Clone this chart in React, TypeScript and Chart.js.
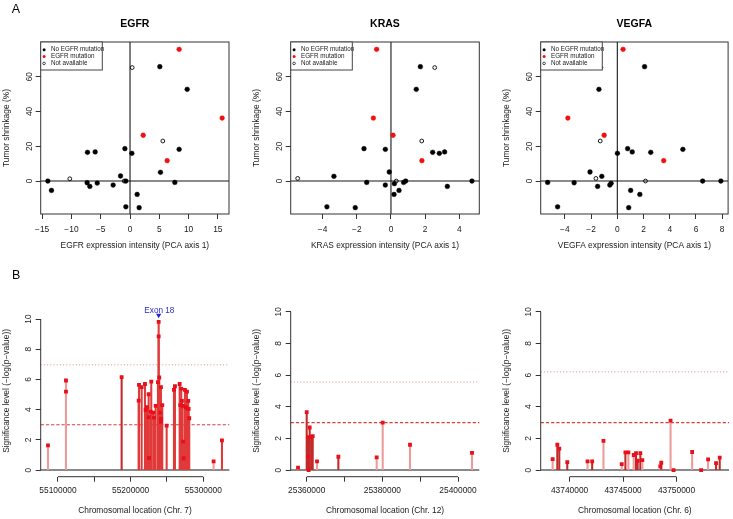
import React, { useEffect, useRef } from 'react';
import { Chart, registerables } from 'chart.js';

Chart.register(...registerables);

const FONT = "'Liberation Sans', Arial, Helvetica, sans-serif";
const TXT = '#1a1a1a';

// ---------------- Panel A : expression vs tumour shrinkage ----------------
const legendLabels = ['No EGFR mutation', 'EGFR mutation', 'Not available'];
const shrinkTicks = [0, 20, 40, 60];

const egfrNoMutX = [-14.03, -13.41, -7.26, -5.95, -7.32, -6.86, -5.6, -2.88, -1.62, -0.88, -0.71, -0.71, 0.31, 1.22, 1.56, 5.09, 5.2, 7.65, 8.39, 9.76];
const egfrNoMutY = [0, -5.4, 16.5, 16.7, -1, -3.1, -1.2, -2.3, 2.9, 18.6, 0, -14.8, 15.9, -7.7, -15.3, 65.7, 5.0, -0.8, 18.2, 52.7];
const egfrMutX = [8.39, 2.25, 6.34, 15.73];
const egfrMutY = [75.7, 26.3, 11.7, 36.2];
const egfrNaX = [0.37, 5.6, -10.28, -1.0];
const egfrNaY = [65.2, 23.0, 1.3, 0];
const egfrExprTicks = [-15, -10, -5, 0, 5, 10, 15];

const krasNoMutX = [-3.75, -3.34, -2.09, -1.58, -1.42, -0.33, -0.33, -0.1, 0.2, 0.18, 0.47, 0.74, 0.86, 1.48, 1.72, 2.44, 2.83, 3.14, 3.3, 4.74];
const krasNoMutY = [-14.8, 2.7, -15.3, 18.6, -0.8, 18.2, -2.3, 5.2, -1.5, -7.7, -5.4, -0.8, 0, 52.7, 65.7, 16.5, 15.9, 16.7, -3.1, 0];
const krasMutX = [-0.84, -1.03, 0.12, 1.81];
const krasMutY = [75.7, 36.2, 26.3, 11.7];
const krasNaX = [-5.46, 0.31, 1.8, 2.56];
const krasNaY = [1.5, 0, 23.0, 65.2];
const krasExprTicks = [-4, -2, 0, 2, 4];

const vegfaNoMutX = [-5.31, -4.55, -3.29, -2.08, -1.5, -1.4, -1.18, -0.57, -0.47, 0.01, 0.79, 0.87, 1.02, 1.14, 1.72, 2.08, 2.55, 5.0, 6.51, 7.9];
const vegfaNoMutY = [-0.8, -14.8, -1, 5.2, -3.1, 52.7, 2.7, -2.3, -1.3, 15.9, 18.6, -15.3, -5.4, 16.7, -7.7, 65.7, 16.5, 18.2, 0, 0];
const vegfaMutX = [0.44, -3.77, -1.0, 3.54];
const vegfaMutY = [75.7, 36.2, 26.3, 11.7];
const vegfaNaX = [-1.25, -1.3, -1.63, 2.15];
const vegfaNaY = [65.2, 23.0, 1.5, 0];
const vegfaExprTicks = [-4, -2, 0, 2, 4, 6, 8];

// ---------------- Panel B : significance along the chromosome ----------------
const sigTicks = [0, 2, 4, 6, 8, 10];

const egfrLoc = [55086240, 55111000, 55111000, 55187600, 55211040, 55211460, 55215170, 55219710, 55220680, 55222460, 55224800, 55224800, 55225220, 55227560, 55228380, 55231130, 55232100, 55234440, 55237600, 55238570, 55238570, 55239390, 55240770, 55241730, 55241730, 55241730, 55243520, 55249570, 55259620, 55261000, 55267460, 55268300, 55269660, 55270620, 55271600, 55272400, 55272950, 55274750, 55275710, 55277500, 55278470, 55279290, 55279840, 55280670, 55314200, 55325700];
const egfrSig = [1.64, 5.93, 5.2, 6.15, 4.6, 5.64, 5.49, 5.7, 3.98, 4.16, 5.02, 3.5, 0.8, 3.87, 5.86, 3.8, 3.47, 4.25, 5.82, 9.82, 8.85, 6.13, 3.8, 5.49, 3.4, 3.2, 4.3, 2.94, 5.31, 5.55, 5.7, 4.3, 5.4, 4.58, 4.25, 1.88, 0.78, 5.31, 4.16, 5.2, 4.07, 4.58, 4.05, 3.43, 0.58, 1.97];
const egfrTone = 'llldmmmmmmmmmmmmmmmmmmmmmmmmmmmmmmmmmmmmmmmmlm'.split('');
const egfrLocTicks = [55100000, 55150000, 55200000, 55250000, 55300000];
const egfrLocLabels = [55100000, 55200000, 55300000];
const egfrThresholds = [6.97, 3.0];
const exonLoc = 55238570;
const exonSig = 10.25;
const exonLabel = 'Exon 18';

const krasLoc = [25357710, 25360000, 25360350, 25360350, 25360500, 25360790, 25361200, 25361590, 25362730, 25368370, 25378500, 25380090, 25387310, 25403700];
const krasSig = [0.15, 3.66, 2.08, 0.84, 0, 2.69, 2.1, 2.15, 0.55, 0.84, 0.8, 3.0, 1.6, 1.09];
const krasTone = 'ldddddddldllll'.split('');
const krasLocTicks = [25360000, 25370000, 25380000, 25390000, 25400000];
const krasLocLabels = [25360000, 25380000, 25400000];
const krasThresholds = [5.56, 3.0];

const vegfaLoc = [43738416, 43738851, 43739037, 43739783, 43741677, 43742112, 43743168, 43744876, 43745218, 43745498, 43745995, 43746212, 43746367, 43746616, 43746802, 43748480, 43748573, 43749442, 43749722, 43751461, 43752300, 43752952, 43753697, 43754039];
const vegfaSig = [0.69, 1.6, 1.35, 0.5, 0.55, 0.55, 1.85, 0.38, 1.12, 1.12, 0.95, 1.07, 0.59, 1.07, 0.63, 0.23, 0.46, 3.12, 0, 1.14, 0, 0.67, 0.44, 0.78];
const vegfaTone = 'ldddldlldlldddlldldldldd'.split('');
const vegfaLocTicks = [43740000, 43745000, 43750000];
const vegfaLocLabels = [43740000, 43745000, 43750000];
const vegfaThresholds = [6.21, 3.0];

// ---------------- styling ----------------
const TONE: Record<string, string> = { d: '#c22a2a', m: '#e03a3a', l: '#ec9a9a' };
const fmt = (v: number) => (v < 0 ? '\u2212' + Math.abs(v) : String(v));
const pts = (xs: number[], ys: number[]) => xs.map((x, i) => ({ x, y: ys[i] }));

type ScatterSpec = {
  title: string; xTitle: string;
  noMutX: number[]; noMutY: number[]; mutX: number[]; mutY: number[]; naX: number[]; naY: number[];
  xMin: number; xMax: number; xTicks: number[];
  left: number; width: number; padRight: number; letter?: string;
};

type StemSpec = {
  xTitle: string; loc: number[]; sig: number[]; tone: string[];
  xMin: number; xMax: number; xTicks: number[]; xLabels: number[];
  yMin: number; yMax: number; thresholds: number[];
  left: number; width: number; padRight: number; letter?: string; exon?: boolean;
};

const tickFont = { family: FONT, size: 8.4 };

function scatterConfig(s: ScatterSpec): any {
  const decor = {
    id: 'decorA',
    beforeDatasetsDraw(chart: any) {
      const { ctx, chartArea: a, scales } = chart;
      const y0 = scales.y.getPixelForValue(0);
      const x0 = scales.x.getPixelForValue(0);
      ctx.save();
      ctx.strokeStyle = '#8a8a8a'; ctx.lineWidth = 2;
      ctx.beginPath(); ctx.moveTo(a.left, y0); ctx.lineTo(a.right, y0); ctx.stroke();
      ctx.strokeStyle = '#000'; ctx.lineWidth = 1;
      ctx.beginPath(); ctx.moveTo(x0, a.top); ctx.lineTo(x0, a.bottom); ctx.stroke();
      ctx.restore();
    },
    afterDraw(chart: any) {
      const { ctx, chartArea: a } = chart;
      ctx.save();
      ctx.strokeStyle = '#333'; ctx.lineWidth = 1;
      ctx.strokeRect(a.left, a.top, a.right - a.left, a.bottom - a.top);
      // legend
      const lx = a.left, ly = a.top;
      ctx.fillStyle = '#fff';
      ctx.fillRect(lx, ly, 61.6, 28);
      ctx.strokeStyle = '#444';
      ctx.strokeRect(lx, ly, 61.6, 28);
      const rows = [7.7, 14.6, 21.4];
      ctx.font = `6.3px ${FONT}`; ctx.textBaseline = 'middle'; ctx.textAlign = 'left';
      rows.forEach((dy, i) => {
        ctx.beginPath();
        ctx.arc(lx + 3.4, ly + dy, i === 2 ? 1.3 : 1.5, 0, Math.PI * 2);
        if (i === 2) { ctx.strokeStyle = '#000'; ctx.lineWidth = 0.7; ctx.stroke(); }
        else { ctx.fillStyle = i === 0 ? '#000' : '#f01010'; ctx.fill(); }
        ctx.fillStyle = TXT;
        ctx.fillText(legendLabels[i], lx + 10.3, ly + dy);
      });
      // title
      ctx.font = `bold 10.5px ${FONT}`; ctx.textAlign = 'center'; ctx.textBaseline = 'alphabetic';
      ctx.fillStyle = '#000';
      ctx.fillText(s.title, (a.left + a.right) / 2, 27.3);
      if (s.letter) {
        ctx.font = `12.5px ${FONT}`; ctx.textAlign = 'left';
        ctx.fillText(s.letter, 11.7, 12.7);
      }
      ctx.restore();
    },
  };
  return {
    type: 'scatter',
    data: {
      datasets: [
        { data: pts(s.noMutX, s.noMutY), pointRadius: 2.4, backgroundColor: '#000', borderColor: '#000', borderWidth: 0.4 },
        { data: pts(s.mutX, s.mutY), pointRadius: 2.4, backgroundColor: '#f01010', borderColor: '#f01010', borderWidth: 0.4 },
        { data: pts(s.naX, s.naY), pointRadius: 1.9, backgroundColor: 'rgba(255,255,255,0)', borderColor: '#000', borderWidth: 0.9 },
      ],
    },
    options: {
      responsive: false, animation: false, events: [],
      layout: { padding: { top: 42, right: s.padRight, bottom: 0, left: 0 } },
      plugins: { legend: { display: false }, tooltip: { enabled: false }, title: { display: false } },
      scales: {
        x: {
          type: 'linear', min: s.xMin, max: s.xMax, offset: false,
          afterFit: (sc: any) => { sc.height = 46; },
          afterBuildTicks: (sc: any) => { sc.ticks = s.xTicks.map((v) => ({ value: v })); },
          grid: { drawOnChartArea: false, drawTicks: true, tickLength: 5, color: '#333' },
          border: { display: false },
          ticks: { font: tickFont, color: TXT, padding: 6, autoSkip: false, minRotation: 0, maxRotation: 0, callback: (v: any) => fmt(Number(v)) },
          title: { display: true, text: s.xTitle, font: tickFont, color: TXT, padding: { top: 0, bottom: 9 } },
        },
        y: {
          type: 'linear', min: -18.95, max: 79.9,
          afterFit: (sc: any) => { sc.width = 40.7; },
          afterBuildTicks: (sc: any) => { sc.ticks = shrinkTicks.map((v) => ({ value: v })); },
          grid: { drawOnChartArea: false, drawTicks: true, tickLength: 5, color: '#333' },
          border: { display: false },
          ticks: { font: tickFont, color: TXT, padding: 1.8, minRotation: 90, maxRotation: 90, crossAlign: 'center', callback: (v: any) => fmt(Number(v)) },
          title: { display: true, text: 'Tumor shrinkage (%)', font: tickFont, color: TXT, padding: { top: 2, bottom: 0 } },
        },
      },
    },
    plugins: [decor],
  };
}

function stemConfig(s: StemSpec): any {
  const decor = {
    id: 'decorB',
    beforeDatasetsDraw(chart: any) {
      const { ctx, chartArea: a, scales } = chart;
      const y = scales.y;
      ctx.save();
      ctx.strokeStyle = '#8a8a8a'; ctx.lineWidth = 2;
      const y0 = y.getPixelForValue(0);
      ctx.beginPath(); ctx.moveTo(a.left, y0); ctx.lineTo(a.right, y0); ctx.stroke();
      // dotted
      ctx.lineWidth = 1;
      ctx.strokeStyle = '#e58a8a'; ctx.setLineDash([1, 2.2]);
      const yd = y.getPixelForValue(s.thresholds[0]);
      ctx.beginPath(); ctx.moveTo(a.left, yd); ctx.lineTo(a.right, yd); ctx.stroke();
      ctx.strokeStyle = '#dc3c3c'; ctx.setLineDash([3.2, 2]); ctx.lineWidth = 1.1;
      const ys = y.getPixelForValue(s.thresholds[1]);
      ctx.beginPath(); ctx.moveTo(a.left, ys); ctx.lineTo(a.right, ys); ctx.stroke();
      ctx.restore();
    },
    afterDraw(chart: any) {
      const { ctx, chartArea: a, scales } = chart;
      const x = scales.x, y = scales.y;
      ctx.save();
      ctx.strokeStyle = '#333'; ctx.lineWidth = 1;
      ctx.beginPath();
      ctx.moveTo(a.left, y.getPixelForValue(sigTicks[0]));
      ctx.lineTo(a.left, y.getPixelForValue(sigTicks[sigTicks.length - 1]));
      ctx.stroke();
      ctx.beginPath();
      ctx.moveTo(x.getPixelForValue(s.xTicks[0]), a.bottom);
      ctx.lineTo(x.getPixelForValue(s.xTicks[s.xTicks.length - 1]), a.bottom);
      ctx.stroke();
      if (s.exon) {
        ctx.font = `8.2px ${FONT}`; ctx.fillStyle = '#2b2bc8'; ctx.textAlign = 'center'; ctx.textBaseline = 'alphabetic';
        ctx.fillText(exonLabel, x.getPixelForValue(exonLoc) + 0.7, y.getPixelForValue(exonSig) - 2.7);
      }
      if (s.letter) {
        ctx.font = `12.5px ${FONT}`; ctx.fillStyle = '#000'; ctx.textAlign = 'left'; ctx.textBaseline = 'alphabetic';
        ctx.fillText(s.letter, 12, 18.7);
      }
      ctx.restore();
    },
  };
  const datasets: any[] = [
    { type: 'scatter', data: pts(s.loc, s.sig), pointStyle: 'rect', pointRadius: 2.7, backgroundColor: '#e8101a', borderWidth: 0, order: 1 },
    { type: 'bar', data: pts(s.loc, s.sig), backgroundColor: s.tone.map((t) => TONE[t]), barThickness: 1.4, borderWidth: 0, order: 3 },
  ];
  if (s.exon) {
    datasets.unshift({ type: 'scatter', data: [{ x: exonLoc, y: exonSig }], pointStyle: 'triangle', rotation: 180, pointRadius: 3, backgroundColor: '#2020c8', borderWidth: 0, order: 0 });
  }
  return {
    type: 'scatter',
    data: { datasets },
    options: {
      responsive: false, animation: false, events: [],
      layout: { padding: { top: 45.2, right: s.padRight, bottom: 0, left: 0 } },
      plugins: { legend: { display: false }, tooltip: { enabled: false }, title: { display: false } },
      scales: {
        x: {
          type: 'linear', min: s.xMin, max: s.xMax, offset: false,
          afterFit: (sc: any) => { sc.height = 42.3; },
          afterBuildTicks: (sc: any) => { sc.ticks = s.xTicks.map((v) => ({ value: v })); },
          grid: { drawOnChartArea: false, drawTicks: true, tickLength: 5, color: '#333', offset: false },
          border: { display: false },
          ticks: { font: tickFont, color: TXT, padding: 4, autoSkip: false, minRotation: 0, maxRotation: 0, callback: (v: any) => (s.xLabels.includes(Number(v)) ? String(v) : '') },
          title: { display: true, text: s.xTitle, font: tickFont, color: TXT, padding: { top: 0, bottom: 3.5 } },
        },
        y: {
          type: 'linear', min: s.yMin, max: s.yMax,
          afterFit: (sc: any) => { sc.width = 40.7; },
          afterBuildTicks: (sc: any) => { sc.ticks = sigTicks.map((v) => ({ value: v })); },
          grid: { drawOnChartArea: false, drawTicks: true, tickLength: 5, color: '#333' },
          border: { display: false },
          ticks: { font: tickFont, color: TXT, padding: 2.8, minRotation: 90, maxRotation: 90, crossAlign: 'center', callback: (v: any) => String(v) },
          title: { display: true, text: 'Significance level (\u2212log(p\u2212value))', font: tickFont, color: TXT, padding: { top: 1.3, bottom: 0 } },
        },
      },
    },
    plugins: [decor],
  };
}

const scatterSpecs: ScatterSpec[] = [
  { title: 'EGFR', xTitle: 'EGFR expression intensity (PCA axis 1)', noMutX: egfrNoMutX, noMutY: egfrNoMutY, mutX: egfrMutX, mutY: egfrMutY, naX: egfrNaX, naY: egfrNaY, xMin: -15.25, xMax: 16.9, xTicks: egfrExprTicks, left: 0, width: 244, padRight: 15, letter: 'A' },
  { title: 'KRAS', xTitle: 'KRAS expression intensity (PCA axis 1)', noMutX: krasNoMutX, noMutY: krasNoMutY, mutX: krasMutX, mutY: krasMutY, naX: krasNaX, naY: krasNaY, xMin: -5.87, xMax: 5.17, xTicks: krasExprTicks, left: 250, width: 239, padRight: 9.7 },
  { title: 'VEGFA', xTitle: 'VEGFA expression intensity (PCA axis 1)', noMutX: vegfaNoMutX, noMutY: vegfaNoMutY, mutX: vegfaMutX, mutY: vegfaMutY, naX: vegfaNaX, naY: vegfaNaY, xMin: -5.84, xMax: 8.45, xTicks: vegfaExprTicks, left: 500, width: 233, padRight: 3.3 },
];

const stemSpecs: StemSpec[] = [
  { xTitle: 'Chromosomal location (Chr. 7)', loc: egfrLoc, sig: egfrSig, tone: egfrTone, xMin: 55076200, xMax: 55335800, xTicks: egfrLocTicks, xLabels: egfrLocLabels, yMin: -0.44, yMax: 10.92, thresholds: egfrThresholds, left: 0, width: 244, padRight: 14.7, letter: 'B', exon: true },
  { xTitle: 'Chromosomal location (Chr. 12)', loc: krasLoc, sig: krasSig, tone: krasTone, xMin: 25355770, xMax: 25405630, xTicks: krasLocTicks, xLabels: krasLocLabels, yMin: -0.42, yMax: 10.42, thresholds: krasThresholds, left: 250, width: 239, padRight: 9.7 },
  { xTitle: 'Chromosomal location (Chr. 6)', loc: vegfaLoc, sig: vegfaSig, tone: vegfaTone, xMin: 43737298, xMax: 43754907, xTicks: vegfaLocTicks, xLabels: vegfaLocLabels, yMin: -0.42, yMax: 10.42, thresholds: vegfaThresholds, left: 500, width: 233, padRight: 3.3 },
];

function Panel({ config, left, top, width, height }: { config: any; left: number; top: number; width: number; height: number }) {
  const ref = useRef<HTMLCanvasElement | null>(null);
  useEffect(() => {
    if (!ref.current) return;
    const chart = new Chart(ref.current, config);
    return () => chart.destroy();
  }, [config]);
  return <canvas ref={ref} width={width} height={height} style={{ position: 'absolute', left, top, width, height }} />;
}

const aConfigs = scatterSpecs.map(scatterConfig);
const bConfigs = stemSpecs.map(stemConfig);

export default function App() {
  return (
    <div style={{ position: 'absolute', left: 0, top: 0, width: 733, height: 519, background: '#fff', overflow: 'hidden' }}>
      {scatterSpecs.map((s, i) => (
        <Panel key={'a' + i} config={aConfigs[i]} left={s.left} top={0} width={s.width} height={260} />
      ))}
      {stemSpecs.map((s, i) => (
        <Panel key={'b' + i} config={bConfigs[i]} left={s.left} top={260} width={s.width} height={259} />
      ))}
    </div>
  );
}
